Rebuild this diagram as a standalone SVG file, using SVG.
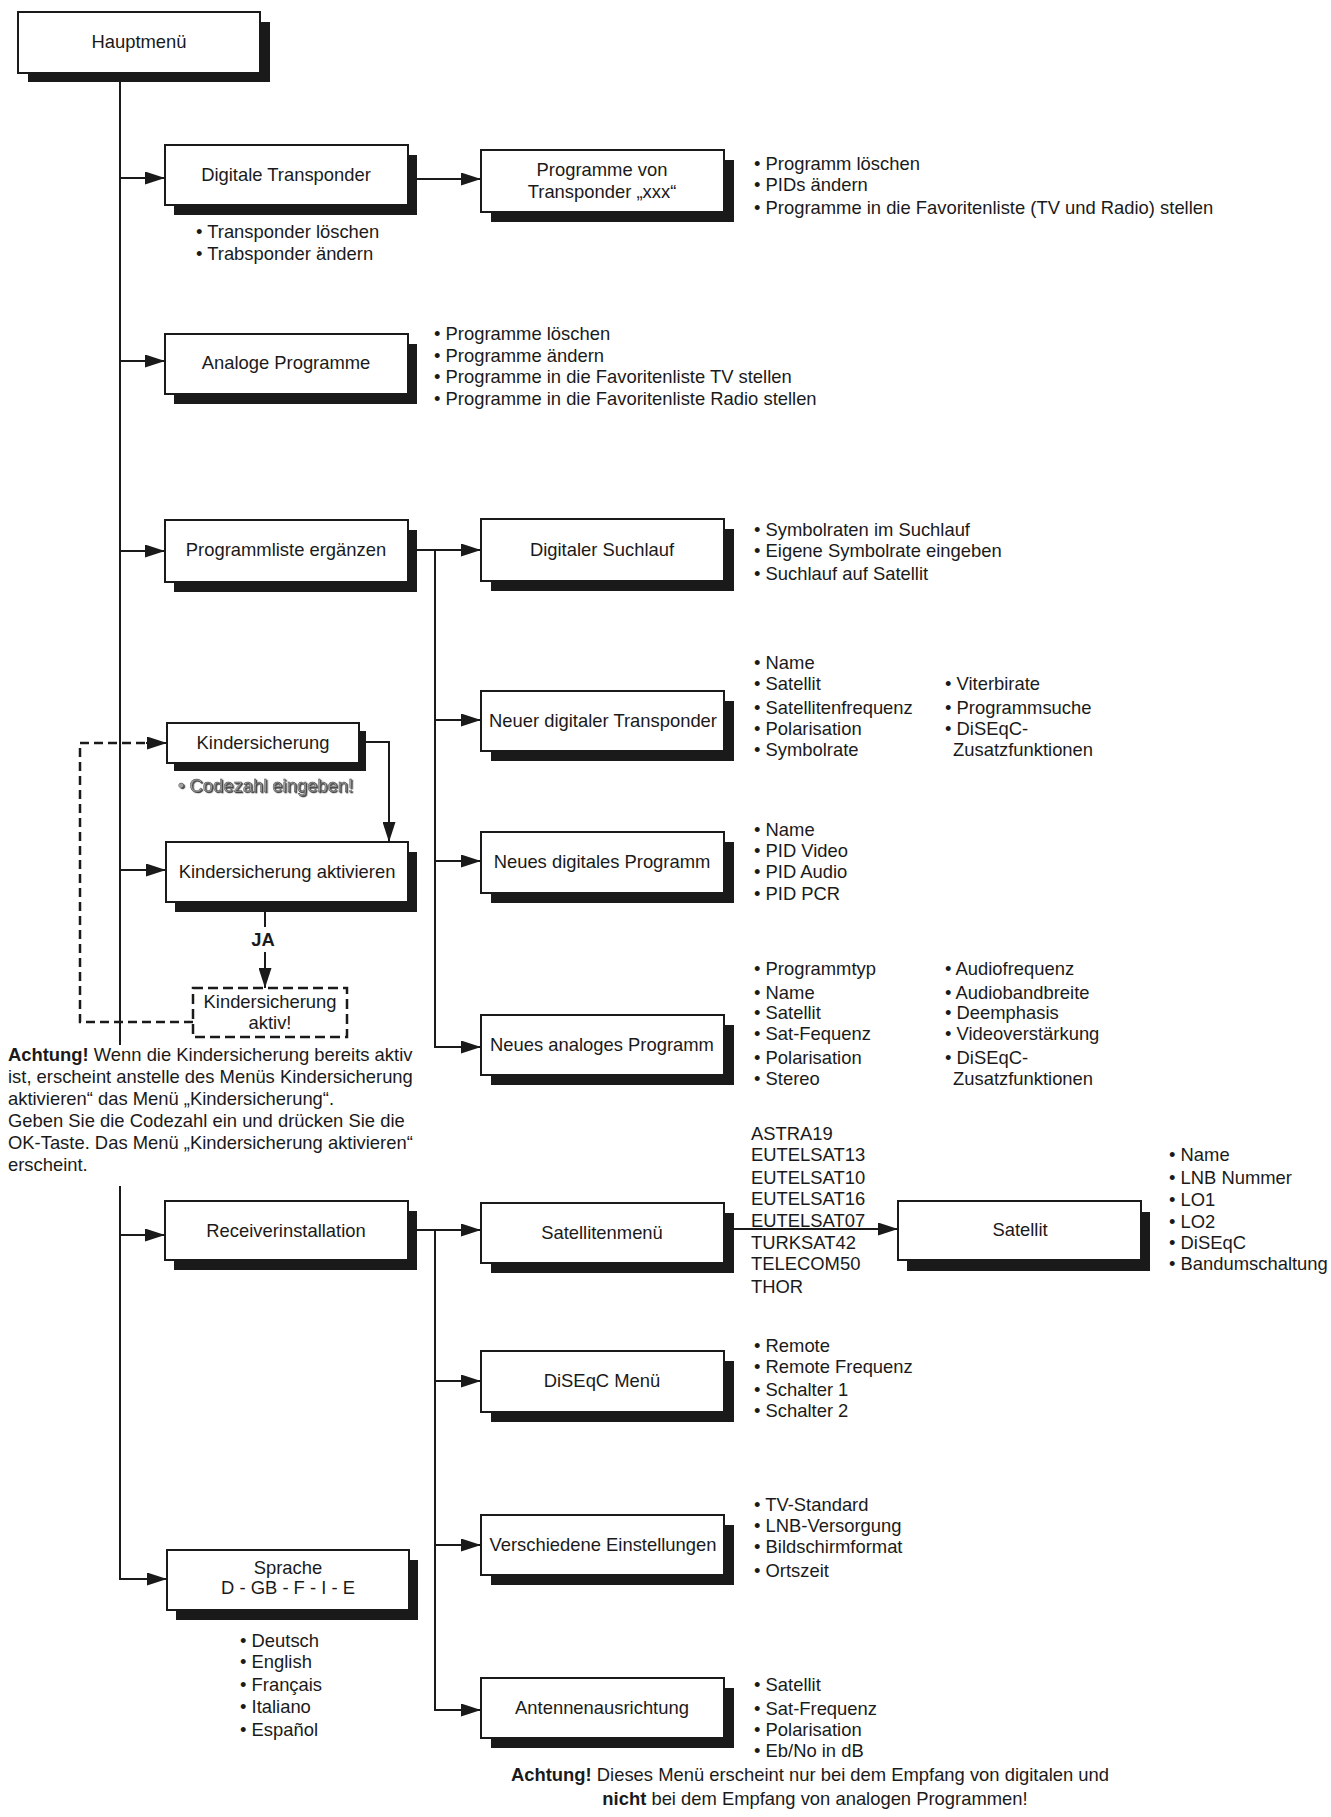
<svg xmlns="http://www.w3.org/2000/svg" width="1331" height="1817" viewBox="0 0 1331 1817">
<style>
.bg{fill:#ffffff}
.box{fill:#ffffff;stroke:#1a1a1a;stroke-width:2}
.dbox{fill:#ffffff;stroke:#1a1a1a;stroke-width:2.5;stroke-dasharray:10 5}
.sh{fill:#1a1a1a}
.t{font-family:"Liberation Sans",Arial,Helvetica,sans-serif;font-size:18.4px;fill:#1a1a1a}
.c{text-anchor:middle}
.b{font-weight:bold}
.ln{fill:none;stroke:#1a1a1a;stroke-width:2}
.dl{fill:none;stroke:#1a1a1a;stroke-width:2.5;stroke-dasharray:9 5}
.emb{fill:#a0a0a0;stroke:#333;stroke-width:0.35}
</style>
<defs>
<marker id="ah" markerWidth="20" markerHeight="13" refX="20" refY="6.5" orient="auto" markerUnits="userSpaceOnUse">
<path d="M0,0 L20,6.5 L0,13 z" fill="#1a1a1a"/>
</marker>
<filter id="ds" x="-5%" y="-20%" width="110%" height="140%">
<feDropShadow dx="1.3" dy="1.1" stdDeviation="0.4" flood-color="#222" flood-opacity="0.85"/>
</filter>
</defs>
<rect class="bg" x="0" y="0" width="1331" height="1817"/>

<g id="connectors">
<path class="ln" d="M120,73 V1045"/>
<path class="ln" d="M120,1186 V1579 H167" marker-end="url(#ah)"/>
<path class="ln" d="M120,178 H165" marker-end="url(#ah)"/>
<path class="ln" d="M120,361 H165" marker-end="url(#ah)"/>
<path class="ln" d="M120,551 H165" marker-end="url(#ah)"/>
<path class="ln" d="M120,870 H166" marker-end="url(#ah)"/>
<path class="ln" d="M120,1235 H165" marker-end="url(#ah)"/>
<path class="ln" d="M417,179 H481" marker-end="url(#ah)"/>
<path class="ln" d="M417,550 H481" marker-end="url(#ah)"/>
<path class="ln" d="M435,550 V1047 H481" marker-end="url(#ah)"/>
<path class="ln" d="M435,720 H481" marker-end="url(#ah)"/>
<path class="ln" d="M435,861 H481" marker-end="url(#ah)"/>
<path class="ln" d="M366,742 H389 V842" marker-end="url(#ah)"/>
<path class="ln" d="M265,912 V927"/>
<path class="ln" d="M265,952 V988" marker-end="url(#ah)"/>
<path class="dl" d="M193,1022 H80 V743 H146"/>
<path class="ln" d="M146,743 H167" marker-end="url(#ah)"/>
<path class="ln" d="M417,1230 H481" marker-end="url(#ah)"/>
<path class="ln" d="M435,1230 V1710 H481" marker-end="url(#ah)"/>
<path class="ln" d="M435,1381 H481" marker-end="url(#ah)"/>
<path class="ln" d="M435,1545 H481" marker-end="url(#ah)"/>
<path class="ln" d="M734,1229 H898" marker-end="url(#ah)"/>
</g>

<g id="hauptmenue">
<rect class="sh" x="28" y="22" width="242" height="60"/>
<rect class="box" x="18" y="12" width="242" height="61"/>
<text class="t c" x="139" y="48">Hauptmenü</text>
</g>

<g id="digitale-transponder">
<rect class="sh" x="174" y="155" width="243" height="60"/>
<rect class="box" x="165" y="145" width="243" height="60"/>
<text class="t c" x="286" y="181">Digitale Transponder</text>
<text class="t" x="196" y="238">• Transponder löschen</text>
<text class="t" x="196" y="260">• Trabsponder ändern</text>
</g>

<g id="programme-von-transponder">
<rect class="sh" x="491" y="160" width="243" height="62"/>
<rect class="box" x="481" y="150" width="243" height="62"/>
<text class="t c" x="602" y="176">Programme von</text>
<text class="t c" x="602" y="198">Transponder „xxx“</text>
<text class="t" x="754" y="170">• Programm löschen</text>
<text class="t" x="754" y="191">• PIDs ändern</text>
<text class="t" x="754" y="214">• Programme in die Favoritenliste (TV und Radio) stellen</text>
</g>

<g id="analoge-programme">
<rect class="sh" x="174" y="344" width="243" height="60"/>
<rect class="box" x="165" y="334" width="243" height="60"/>
<text class="t c" x="286" y="369">Analoge Programme</text>
<text class="t" x="434" y="340">• Programme löschen</text>
<text class="t" x="434" y="362">• Programme ändern</text>
<text class="t" x="434" y="383">• Programme in die Favoritenliste TV stellen</text>
<text class="t" x="434" y="405">• Programme in die Favoritenliste Radio stellen</text>
</g>

<g id="programmliste-ergaenzen">
<rect class="sh" x="174" y="530" width="243" height="62"/>
<rect class="box" x="165" y="520" width="243" height="62"/>
<text class="t c" x="286" y="556">Programmliste ergänzen</text>
</g>

<g id="digitaler-suchlauf">
<rect class="sh" x="491" y="529" width="243" height="62"/>
<rect class="box" x="481" y="519" width="243" height="62"/>
<text class="t c" x="602" y="556">Digitaler Suchlauf</text>
<text class="t" x="754" y="536">• Symbolraten im Suchlauf</text>
<text class="t" x="754" y="557">• Eigene Symbolrate eingeben</text>
<text class="t" x="754" y="580">• Suchlauf auf Satellit</text>
</g>

<g id="neuer-digitaler-transponder">
<rect class="sh" x="491" y="701" width="243" height="60"/>
<rect class="box" x="481" y="691" width="243" height="60"/>
<text class="t c" x="603" y="727">Neuer digitaler Transponder</text>
<text class="t" x="754" y="669">• Name</text>
<text class="t" x="754" y="690">• Satellit</text>
<text class="t" x="754" y="714">• Satellitenfrequenz</text>
<text class="t" x="754" y="735">• Polarisation</text>
<text class="t" x="754" y="756">• Symbolrate</text>
<text class="t" x="945" y="690">• Viterbirate</text>
<text class="t" x="945" y="714">• Programmsuche</text>
<text class="t" x="945" y="735">• DiSEqC-</text>
<text class="t" x="953" y="756">Zusatzfunktionen</text>
</g>

<g id="kindersicherung">
<rect class="sh" x="174" y="731" width="192" height="40"/>
<rect class="box" x="167" y="723" width="192" height="40"/>
<text class="t c" x="263" y="749">Kindersicherung</text>
<text class="t emb" x="178" y="792" filter="url(#ds)">• Codezahl eingeben!</text>
</g>

<g id="kindersicherung-aktivieren">
<rect class="sh" x="175" y="852" width="242" height="60"/>
<rect class="box" x="166" y="842" width="242" height="60"/>
<text class="t c" x="287" y="878">Kindersicherung aktivieren</text>
<text class="t c b" x="263" y="946">JA</text>
</g>

<g id="kindersicherung-aktiv">
<rect class="dbox" x="193" y="988" width="154" height="49"/>
<text class="t c" x="270" y="1008">Kindersicherung</text>
<text class="t c" x="270" y="1029">aktiv!</text>
</g>

<g id="hinweis-kindersicherung">
<text class="t" x="8" y="1061"><tspan class="b">Achtung!</tspan> Wenn die Kindersicherung bereits aktiv</text>
<text class="t" x="8" y="1083">ist, erscheint anstelle des Menüs Kindersicherung</text>
<text class="t" x="8" y="1105">aktivieren“ das Menü „Kindersicherung“.</text>
<text class="t" x="8" y="1127">Geben Sie die Codezahl ein und drücken Sie die</text>
<text class="t" x="8" y="1149">OK-Taste. Das Menü „Kindersicherung aktivieren“</text>
<text class="t" x="8" y="1171">erscheint.</text>
</g>

<g id="neues-digitales-programm">
<rect class="sh" x="491" y="842" width="243" height="61"/>
<rect class="box" x="481" y="832" width="243" height="61"/>
<text class="t c" x="602" y="868">Neues digitales Programm</text>
<text class="t" x="754" y="836">• Name</text>
<text class="t" x="754" y="857">• PID Video</text>
<text class="t" x="754" y="878">• PID Audio</text>
<text class="t" x="754" y="900">• PID PCR</text>
</g>

<g id="neues-analoges-programm">
<rect class="sh" x="491" y="1025" width="243" height="60"/>
<rect class="box" x="481" y="1015" width="243" height="60"/>
<text class="t c" x="602" y="1051">Neues analoges Programm</text>
<text class="t" x="754" y="975">• Programmtyp</text>
<text class="t" x="754" y="999">• Name</text>
<text class="t" x="754" y="1019">• Satellit</text>
<text class="t" x="754" y="1040">• Sat-Fequenz</text>
<text class="t" x="754" y="1064">• Polarisation</text>
<text class="t" x="754" y="1085">• Stereo</text>
<text class="t" x="945" y="975">• Audiofrequenz</text>
<text class="t" x="945" y="999">• Audiobandbreite</text>
<text class="t" x="945" y="1019">• Deemphasis</text>
<text class="t" x="945" y="1040">• Videoverstärkung</text>
<text class="t" x="945" y="1064">• DiSEqC-</text>
<text class="t" x="953" y="1085">Zusatzfunktionen</text>
</g>

<g id="receiverinstallation">
<rect class="sh" x="174" y="1211" width="243" height="59"/>
<rect class="box" x="165" y="1201" width="243" height="59"/>
<text class="t c" x="286" y="1237">Receiverinstallation</text>
</g>

<g id="satellitenmenue">
<rect class="sh" x="491" y="1213" width="243" height="60"/>
<rect class="box" x="481" y="1203" width="243" height="60"/>
<text class="t c" x="602" y="1239">Satellitenmenü</text>
<text class="t" x="751" y="1140">ASTRA19</text>
<text class="t" x="751" y="1161">EUTELSAT13</text>
<text class="t" x="751" y="1184">EUTELSAT10</text>
<text class="t" x="751" y="1205">EUTELSAT16</text>
<text class="t" x="751" y="1227">EUTELSAT07</text>
<text class="t" x="751" y="1249">TURKSAT42</text>
<text class="t" x="751" y="1270">TELECOM50</text>
<text class="t" x="751" y="1293">THOR</text>
</g>

<g id="satellit">
<rect class="sh" x="907" y="1212" width="243" height="59"/>
<rect class="box" x="898" y="1201" width="243" height="59"/>
<text class="t c" x="1020" y="1236">Satellit</text>
<text class="t" x="1169" y="1161">• Name</text>
<text class="t" x="1169" y="1184">• LNB Nummer</text>
<text class="t" x="1169" y="1206">• LO1</text>
<text class="t" x="1169" y="1228">• LO2</text>
<text class="t" x="1169" y="1249">• DiSEqC</text>
<text class="t" x="1169" y="1270">• Bandumschaltung</text>
</g>

<g id="diseqc-menue">
<rect class="sh" x="491" y="1361" width="243" height="61"/>
<rect class="box" x="481" y="1351" width="243" height="61"/>
<text class="t c" x="602" y="1387">DiSEqC Menü</text>
<text class="t" x="754" y="1352">• Remote</text>
<text class="t" x="754" y="1373">• Remote Frequenz</text>
<text class="t" x="754" y="1396">• Schalter 1</text>
<text class="t" x="754" y="1417">• Schalter 2</text>
</g>

<g id="verschiedene-einstellungen">
<rect class="sh" x="491" y="1525" width="243" height="60"/>
<rect class="box" x="481" y="1515" width="243" height="60"/>
<text class="t c" x="603" y="1551">Verschiedene Einstellungen</text>
<text class="t" x="754" y="1511">• TV-Standard</text>
<text class="t" x="754" y="1532">• LNB-Versorgung</text>
<text class="t" x="754" y="1553">• Bildschirmformat</text>
<text class="t" x="754" y="1577">• Ortszeit</text>
</g>

<g id="antennenausrichtung">
<rect class="sh" x="491" y="1688" width="243" height="60"/>
<rect class="box" x="481" y="1678" width="243" height="60"/>
<text class="t c" x="602" y="1714">Antennenausrichtung</text>
<text class="t" x="754" y="1691">• Satellit</text>
<text class="t" x="754" y="1715">• Sat-Frequenz</text>
<text class="t" x="754" y="1736">• Polarisation</text>
<text class="t" x="754" y="1757">• Eb/No in dB</text>
<text class="t c" x="810" y="1781"><tspan class="b">Achtung!</tspan> Dieses Menü erscheint nur bei dem Empfang von digitalen und</text>
<text class="t c" x="815" y="1805"><tspan class="b">nicht</tspan> bei dem Empfang von analogen Programmen!</text>
</g>

<g id="sprache">
<rect class="sh" x="176" y="1560" width="242" height="60"/>
<rect class="box" x="167" y="1550" width="242" height="60"/>
<text class="t c" x="288" y="1574">Sprache</text>
<text class="t c" x="288" y="1594">D - GB - F - I - E</text>
<text class="t" x="240" y="1647">• Deutsch</text>
<text class="t" x="240" y="1668">• English</text>
<text class="t" x="240" y="1691">• Français</text>
<text class="t" x="240" y="1713">• Italiano</text>
<text class="t" x="240" y="1736">• Español</text>
</g>
</svg>
